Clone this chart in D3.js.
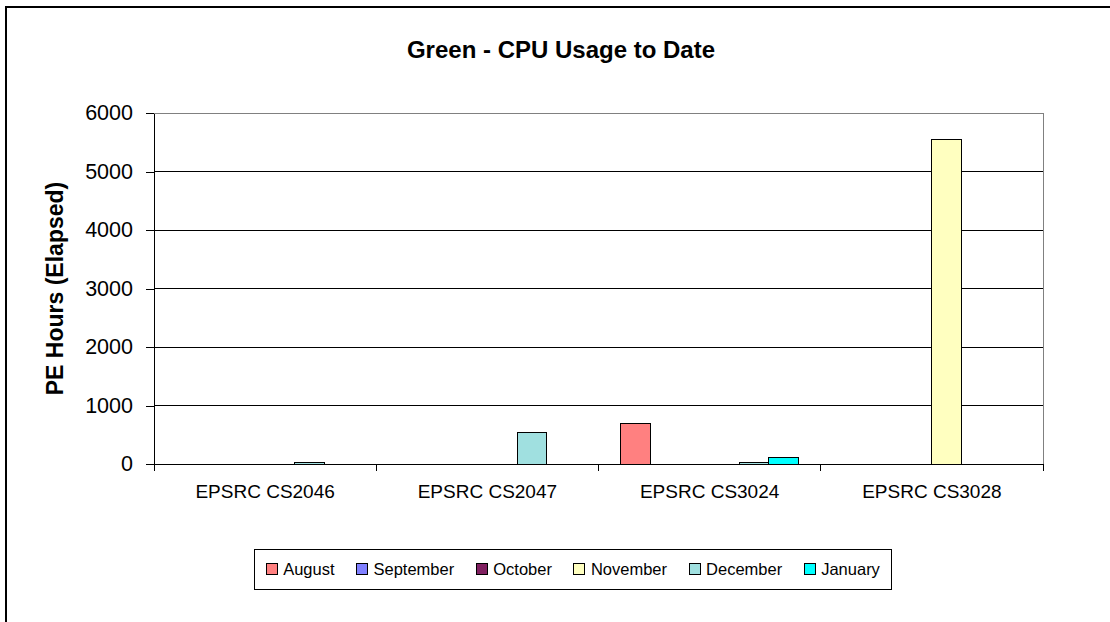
<!DOCTYPE html>
<meta charset="utf-8">
<style>
body { margin: 0; background: #fff; }
svg { font-family: "Liberation Sans", Arial, sans-serif; }
.grid line { stroke: #000; shape-rendering: crispEdges; }
.axis path, .axis line { stroke: #000; shape-rendering: crispEdges; }
.axis text { fill: #000; }
.bar { stroke: #000; stroke-width: 1; shape-rendering: crispEdges; }
</style>
<svg width="1110" height="622"></svg>
<script src="https://d3js.org/d3.v7.min.js"></script>
<script>

// data
var categories = ["EPSRC CS2046", "EPSRC CS2047", "EPSRC CS3024", "EPSRC CS3028"];
var months = ["August", "September", "October", "November", "December", "January"];
var august    = [0, 0, 685, 0];
var september = [0, 0, 0, 0];
var october   = [0, 0, 0, 0];
var november  = [0, 0, 0, 5550];
var december  = [32, 545, 32, 0];
var january   = [0, 0, 110, 0];
var yTicks = [0, 1000, 2000, 3000, 4000, 5000, 6000];
var colors = ["#ff8080", "#8080ff", "#802060", "#ffffc0", "#a0e0e0", "#00ffff"];

var series = [august, september, october, november, december, january];

var svg = d3.select("svg"),
  plot = {left: 154, right: 1043, top: 113, bottom: 464};

// chart area frame (runs past the right and bottom edge)
svg.append("rect")
  .attr("x", 6).attr("y", 7)
  .attr("width", 1200).attr("height", 700)
  .attr("fill", "#fff")
  .attr("stroke", "#000")
  .attr("stroke-width", 2);

var x = d3.scaleBand().domain(categories).range([plot.left, plot.right]);
var xm = d3.scaleBand().domain(months).range([0, x.bandwidth()])
  .paddingInner(0).paddingOuter(0.75);
var y = d3.scaleLinear().domain([0, 6000]).range([plot.bottom, plot.top]);

// plot area border
svg.append("rect")
  .attr("x", plot.left).attr("y", plot.top)
  .attr("width", plot.right - plot.left).attr("height", plot.bottom - plot.top)
  .attr("fill", "none")
  .attr("stroke", "#808080")
  .attr("shape-rendering", "crispEdges");

svg.append("g")
  .attr("class", "grid")
  .selectAll("line")
  .data(yTicks.filter(function(d) { return d > 0 && d < 6000; }))
  .enter().append("line")
    .attr("x1", plot.left).attr("x2", plot.right)
    .attr("y1", function(d) { return y(d); })
    .attr("y2", function(d) { return y(d); });

// bars, one group per category
var rows = [];
categories.forEach(function(c, i) {
  months.forEach(function(m, j) {
    rows.push({cat: c, month: m, value: series[j][i], color: colors[j]});
  });
});

svg.append("g")
  .selectAll("rect")
  .data(rows.filter(function(d) { return d.value > 0; }))
  .enter().append("rect")
    .attr("class", "bar")
    .attr("x", function(d) { return x(d.cat) + xm(d.month); })
    .attr("width", xm.bandwidth())
    .attr("y", function(d) { return y(d.value); })
    .attr("height", function(d) { return y(0) - y(d.value); })
    .attr("fill", function(d) { return d.color; });

// y axis
svg.append("g")
  .attr("class", "axis")
  .attr("transform", "translate(" + plot.left + ",0)")
  .call(d3.axisLeft(y).tickValues(yTicks).tickFormat(d3.format("d"))
    .tickSize(8).tickPadding(13).tickSizeOuter(0))
  .selectAll("text")
    .style("font-size", "21.5px");

// x axis: labels centred in bands, ticks on the band boundaries
var xAxis = svg.append("g")
  .attr("class", "axis")
  .attr("transform", "translate(0," + plot.bottom + ")")
  .call(d3.axisBottom(x).tickSize(0).tickPadding(21).tickSizeOuter(0));
xAxis.selectAll("text").style("font-size", "19px");

xAxis.selectAll(".bound")
  .data(categories.map(function(c) { return x(c); }).concat([x.range()[1]]))
  .enter().append("line")
    .attr("class", "bound")
    .attr("x1", function(d) { return d; })
    .attr("x2", function(d) { return d; })
    .attr("y1", 0).attr("y2", 7);

// titles
svg.append("text")
  .attr("x", 561).attr("y", 58)
  .attr("text-anchor", "middle")
  .style("font-size", "24px")
  .style("font-weight", "bold")
  .text("Green - CPU Usage to Date");

svg.append("text")
  .attr("transform", "translate(63," + (plot.top + plot.bottom) / 2 + ") rotate(-90)")
  .attr("text-anchor", "middle")
  .style("font-size", "23px")
  .style("font-weight", "bold")
  .text("PE Hours (Elapsed)");

// legend
var legend = svg.append("g");
var legendBox = legend.append("rect")
  .attr("fill", "#fff")
  .attr("stroke", "#000")
  .attr("shape-rendering", "crispEdges");

var cursor = 0, sw = 11, gap = 22;
var items = legend.selectAll(".item")
  .data(months)
  .enter().append("g")
    .attr("class", "item");

items.append("rect")
  .attr("width", sw).attr("height", sw)
  .attr("y", -sw / 2)
  .attr("fill", function(d, i) { return colors[i]; })
  .attr("stroke", "#000")
  .attr("shape-rendering", "crispEdges");

items.append("text")
  .attr("x", sw + 6)
  .attr("dy", "0.35em")
  .style("font-size", "16.5px")
  .text(function(d) { return d; });

items.each(function() {
  var g = d3.select(this);
  g.attr("transform", "translate(" + cursor + ",0)");
  cursor += sw + 6 + g.select("text").node().getComputedTextLength() + gap;
});
cursor -= gap;

var legendCx = 573, legendCy = 569, pad = 12;
legend.attr("transform", "translate(" + (legendCx - cursor / 2) + "," + legendCy + ")");
legendBox
  .attr("x", -pad).attr("y", -20)
  .attr("width", cursor + 2 * pad).attr("height", 40);

</script>
